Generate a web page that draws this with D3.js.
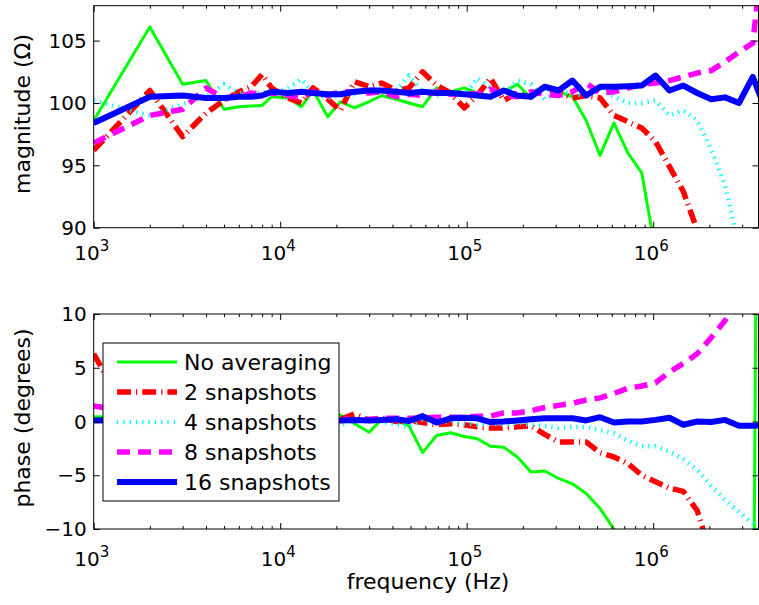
<!DOCTYPE html>
<html>
<head>
<meta charset="utf-8">
<script src="https://cdn.jsdelivr.net/npm/d3@7"></script>
<style>
  body { margin: 0; background: #fff; }
  svg text { font-family: "DejaVu Sans", "Liberation Sans", Arial, sans-serif; fill: #000; }
</style>
</head>
<body>
<div id="chart"></div>
<script>
// frequencies (Hz) of the measured points
const freq = [1000, 2000, 3000, 4000, 5000, 6000, 7000, 8000, 9000, 11000, 13000, 15000, 18000, 21000, 25000,
  30000, 35000, 42000, 49000, 58000, 69000, 82000, 97000, 114000, 134000, 158000, 187000, 221000, 262000,
  311000, 369000, 437000, 519000, 616000, 731000, 868000, 1030000, 1223000, 1451000, 1723000, 2046000,
  2428000, 2883000, 3420000, 4060000];

const seriesNames = ["No averaging", "2 snapshots", "4 snapshots", "8 snapshots", "16 snapshots"];

// magnitude (ohm)
const magNoAvg = [98.6, 106.1, 101.5, 101.8, 99.5, 99.7, 99.75, 99.8, 100.5, 100.4, 99.7, 101.0, 98.9, 100.1, 99.6,
  100.1, 100.6, 100.3, 100.0, 99.7, 101.2, 100.9, 101.2, 100.8, 100.4, 100.9, 101.5, 100.4, 101.2,
  100.9, 100.5, 98.6, 95.8, 98.4, 96.0, 94.4, 88.1, 84, 80, 76, 72, 68, 64, 60, 56];
const magSnap2 = [96.2, 101.0, 97.3, 99.2, 100.2, 100.9, 101.3, 102.3, 101.2, 100.4, 100.0, 101.2, 100.3, 99.4, 101.7,
  101.3, 101.6, 101.0, 101.2, 102.5, 101.4, 100.8, 99.6, 100.6, 102.0, 100.2, 100.8, 100.5, 101.3,
  100.9, 100.4, 100.6, 100.4, 99.0, 98.5, 98.0, 96.9, 94.9, 92.9, 89.8, 86, 82, 78, 74, 70];
const magSnap4 = [100.2, 99.0, 99.9, 100.5, 101.5, 100.8, 100.6, 100.9, 100.7, 101.2, 101.9, 100.8, 100.4, 100.6, 100.7,
  101.2, 100.9, 101.0, 102.2, 100.9, 100.6, 100.8, 100.6, 102.0, 101.2, 100.7, 101.8, 101.5, 100.3,
  100.9, 100.8, 100.5, 101.2, 100.5, 100.0, 100.0, 100.2, 99.0, 99.4, 98.6, 96.3, 93.4, 88.5, 82, 75];
const magSnap8 = [96.8, 99.0, 99.5, 101.2, 100.4, 100.5, 100.8, 100.7, 100.8, 100.6, 100.4, 100.9, 100.6, 100.9, 100.9,
  100.8, 100.9, 100.5, 100.7, 100.6, 100.9, 100.7, 100.8, 100.7, 101.1, 100.6, 100.5, 100.9, 100.7,
  100.6, 100.9, 101.6, 100.8, 100.9, 101.2, 101.5, 101.6, 101.8, 102.1, 102.4, 102.6, 103.3, 104.1, 104.8, 115];
const magSnap16 = [98.4, 100.5, 100.6, 100.4, 100.4, 100.5, 100.5, 100.6, 100.9, 100.8, 100.9, 100.8, 100.7, 100.7, 100.9,
  101.0, 101.0, 100.9, 100.8, 100.9, 100.8, 100.8, 100.7, 100.6, 100.5, 101.0, 100.6, 100.5, 101.3,
  101.0, 101.8, 100.6, 101.3, 101.3, 101.35, 101.4, 102.2, 101.0, 101.4, 100.8, 100.3, 100.45, 100.0, 102.1, 99.2];

// phase (degrees)
const phNoAvg = [0.45, 0.3, 0.5, 0.2, 0.4, 0.3, 0.5, 0.2, 0.4, 0.3, 0.6, 0.3, 0.8, 0.6, -0.2,
  -1.0, 0.2, 0.1, -0.4, -2.9, -1.3, -1.05, -1.4, -1.6, -2.3, -2.4, -3.3, -4.7, -4.6,
  -5.3, -5.8, -6.7, -8.1, -10.0, -12.5, -14, -16, -18, -20, -22, -24, -26, -29, -32, 170];
const phSnap2 = [6.3, -3.0, 0.5, -0.2, 0.4, 0.1, 0.3, 0.0, 0.2, 0.1, 0.3, 0.0, 0.3, 0.2, 0.7,
  0.1, 0.3, 0.0, 0.1, -0.1, -0.3, -0.2, -0.3, -0.5, -0.6, -0.6, -0.5, -0.4, -1.2,
  -1.9, -1.9, -1.9, -2.9, -3.3, -3.9, -5.0, -5.6, -6.2, -6.5, -8.3, -12.5, -16, -20, -24, -28];
const phSnap4 = [0.1, 0.2, -0.1, 0.3, 0.0, 0.2, 0.1, 0.3, 0.0, 0.2, 0.1, 0.3, -0.1, -0.3, 0.1,
  0.3, 0.0, -0.3, -0.5, 0.2, -0.2, 0.1, -0.2, -0.3, -0.2, -0.3, -0.1, -0.3, -0.4,
  -0.6, -0.5, -0.5, -0.8, -1.1, -1.8, -2.3, -2.3, -2.8, -3.5, -4.5, -6.0, -7.3, -8.4, -9.5, -11.5];
const phSnap8 = [1.45, 0.6, 0.4, 0.3, 0.2, 0.3, 0.2, 0.3, 0.2, 0.3, 0.2, 0.2, 0.2, 0.3, 0.1,
  0.2, 0.3, 0.3, 0.3, 0.3, 0.4, 0.4, 0.4, 0.5, 0.5, 0.8, 0.8, 1.0, 1.3,
  1.5, 1.7, 2.0, 2.2, 2.6, 3.1, 3.3, 3.6, 4.6, 5.4, 6.3, 7.8, 9.4, 11.5, 14, 17];
const phSnap16 = [0.1, 0.15, 0.1, 0.2, 0.1, 0.15, 0.1, 0.2, 0.1, 0.15, 0.1, 0.2, 0.1, 0.1, 0.15,
  0.1, 0.15, 0.2, 0.05, 0.5, -0.1, 0.3, 0.35, 0.3, -0.05, 0.0, 0.1, 0.2, 0.3,
  0.3, 0.3, 0.1, 0.4, -0.1, 0.0, 0.0, 0.15, 0.35, -0.3, 0.0, -0.05, 0.15, -0.4, -0.4, -0.35];

const magTicks = [90, 95, 100, 105];
const phaseTicks = [-10, -5, 0, 5, 10];
const decades = [1e3, 1e4, 1e5, 1e6];

// line styles, same order as seriesNames
const styles = [
  {color: "#00ff00", width: 3, dash: null},
  {color: "#ff0000", width: 5.5, dash: "14,5,1.2,5"},
  {color: "#00ffff", width: 4.5, dash: "1.3,5"},
  {color: "#ff00ff", width: 5.5, dash: "13,8"},
  {color: "#0000ff", width: 6, dash: null}
];

let width = 759, height = 605;
let left = 93.7, right = 758.5;

let svg = d3.select("#chart")
  .append("svg")
  .attr("width", width)
  .attr("height", height);

let x = d3.scaleLog()
  .domain([1e3, 3.67e6])
  .range([left, right]);

let minorTicks = [];
decades.forEach(function(d) {
  d3.range(2, 10).forEach(function(k) {
    if (d * k < 3.67e6) minorTicks.push(d * k);
  });
});

let panels = [
  {id: "mag", top: 5.7, bottom: 227.7, domain: [90, 107.8], ticks: magTicks, label: "magnitude (\u03a9)",
    labelY: 114, xLabelBase: 260, series: [magNoAvg, magSnap2, magSnap4, magSnap8, magSnap16]},
  {id: "phase", top: 314, bottom: 529, domain: [-10, 10], ticks: phaseTicks, label: "phase (degrees)",
    labelY: 418, xLabelBase: 566, series: [phNoAvg, phSnap2, phSnap4, phSnap8, phSnap16]}
];

function fmt(d) {
  return d < 0 ? "\u2212" + Math.abs(d) : String(d);
}

panels.forEach(function(p) {
  let y = d3.scaleLinear()
    .domain(p.domain)
    .range([p.bottom, p.top]);

  let g = svg.append("g").attr("class", "panel-" + p.id);

  svg.append("clipPath")
    .attr("id", "clip-" + p.id)
    .append("rect")
    .attr("x", left)
    .attr("y", p.top)
    .attr("width", right - left)
    .attr("height", p.bottom - p.top);

  let line = d3.line()
    .x(function(d) { return x(d[0]); })
    .y(function(d) { return y(d[1]); });

  let lines = g.append("g").attr("clip-path", "url(#clip-" + p.id + ")");
  p.series.forEach(function(vals, i) {
    let st = styles[i];
    lines.append("path")
      .datum(d3.zip(freq, vals))
      .attr("d", line)
      .attr("fill", "none")
      .attr("stroke", st.color)
      .attr("stroke-width", st.width)
      .attr("stroke-dasharray", st.dash)
      .attr("stroke-linejoin", "round")
      .attr("stroke-linecap", "butt");
  });

  // axes: ticks point inwards, mirrored on top/right
  let axes = [
    {axis: d3.axisBottom(x), t: "translate(0," + p.bottom + ")"},
    {axis: d3.axisTop(x), t: "translate(0," + p.top + ")"}
  ];
  axes.forEach(function(a) {
    g.append("g")
      .attr("transform", a.t)
      .call(a.axis.tickValues(decades).tickSizeInner(-6).tickSizeOuter(0).tickFormat(""));
    g.append("g")
      .attr("transform", a.t)
      .call(a.axis.tickValues(minorTicks).tickSizeInner(-3).tickSizeOuter(0).tickFormat(""));
  });
  g.append("g")
    .attr("transform", "translate(" + left + ",0)")
    .call(d3.axisLeft(y).tickValues(p.ticks).tickSizeInner(-6).tickSizeOuter(0).tickFormat(""));
  g.append("g")
    .attr("transform", "translate(" + right + ",0)")
    .call(d3.axisRight(y).tickValues(p.ticks).tickSizeInner(-6).tickSizeOuter(0).tickFormat(""));
  g.selectAll(".domain").remove();
  g.selectAll(".tick line").attr("stroke", "#000").attr("stroke-width", 1);

  g.append("rect")
    .attr("x", left)
    .attr("y", p.top)
    .attr("width", right - left)
    .attr("height", p.bottom - p.top)
    .attr("fill", "none")
    .attr("stroke", "#000")
    .attr("stroke-width", 1);

  // y tick labels
  g.selectAll(".ylab")
    .data(p.ticks)
    .enter()
    .append("text")
    .attr("x", left - 7)
    .attr("y", function(d) { return y(d); })
    .attr("dy", "0.36em")
    .attr("text-anchor", "end")
    .style("font-size", "20px")
    .text(fmt);

  // x tick labels 10^n
  let xl = g.selectAll(".xlab")
    .data(decades)
    .enter()
    .append("text")
    .attr("x", function(d) { return x(d) - 2; })
    .attr("y", p.xLabelBase)
    .attr("text-anchor", "middle")
    .style("font-size", "20px");
  xl.append("tspan").text("10");
  xl.append("tspan")
    .attr("dy", -9)
    .style("font-size", "15px")
    .text(function(d) { return Math.round(Math.log10(d)); });

  g.append("text")
    .attr("transform", "translate(30," + p.labelY + ") rotate(-90)")
    .attr("text-anchor", "middle")
    .style("font-size", "22px")
    .text(p.label);
});

svg.append("text")
  .attr("x", 428)
  .attr("y", 589)
  .attr("text-anchor", "middle")
  .style("font-size", "22px")
  .text("frequency (Hz)");

// legend
let legend = svg.append("g").attr("transform", "translate(103,343)");
legend.append("rect")
  .attr("width", 236)
  .attr("height", 158)
  .attr("fill", "#fff")
  .attr("stroke", "#000")
  .attr("stroke-width", 1);

let items = legend.selectAll(".item")
  .data(seriesNames)
  .enter()
  .append("g")
  .attr("transform", function(d, i) { return "translate(0," + (19 + i * 30) + ")"; });

items.append("line")
  .attr("x1", 14)
  .attr("x2", 74)
  .attr("stroke", function(d, i) { return styles[i].color; })
  .attr("stroke-width", function(d, i) { return styles[i].width; })
  .attr("stroke-dasharray", function(d, i) { return styles[i].dash; });

items.append("text")
  .attr("x", 81)
  .attr("dy", "0.36em")
  .style("font-size", "22px")
  .text(function(d) { return d; });
</script>
</body>
</html>
